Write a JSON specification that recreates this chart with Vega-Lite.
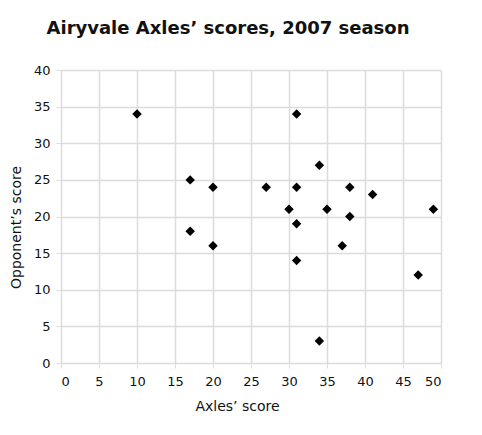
{
  "$schema": "https://vega.github.io/schema/vega-lite/v6.json",
  "autosize": "none",
  "width": 380,
  "height": 293,
  "padding": {"left": 61, "top": 70, "right": 41, "bottom": 72},
  "background": "white",
  "title": {
    "text": "Airyvale Axles’ scores, 2007 season",
    "font": "DejaVu Sans",
    "fontSize": 18,
    "fontWeight": "bold",
    "color": "#111",
    "anchor": "middle",
    "dx": -23,
    "offset": 26
  },
  "config": {
    "view": {"stroke": null},
    "axis": {
      "labelFont": "DejaVu Sans",
      "titleFont": "DejaVu Sans",
      "labelFontSize": 13,
      "titleFontSize": 14,
      "titleFontWeight": "normal",
      "labelColor": "#111",
      "titleColor": "#111",
      "gridColor": "#dcdcdc",
      "gridWidth": 1.5,
      "tickColor": "#dcdcdc",
      "tickSize": 5,
      "domain": false
    }
  },
  "data": {
    "values": [
      {"axles": 10, "opponent": 34},
      {"axles": 17, "opponent": 25},
      {"axles": 17, "opponent": 18},
      {"axles": 20, "opponent": 24},
      {"axles": 20, "opponent": 16},
      {"axles": 27, "opponent": 24},
      {"axles": 30, "opponent": 21},
      {"axles": 31, "opponent": 34},
      {"axles": 31, "opponent": 24},
      {"axles": 31, "opponent": 19},
      {"axles": 31, "opponent": 14},
      {"axles": 34, "opponent": 27},
      {"axles": 34, "opponent": 3},
      {"axles": 35, "opponent": 21},
      {"axles": 37, "opponent": 16},
      {"axles": 38, "opponent": 24},
      {"axles": 38, "opponent": 20},
      {"axles": 41, "opponent": 23},
      {"axles": 47, "opponent": 12},
      {"axles": 49, "opponent": 21}
    ]
  },
  "mark": {"type": "point", "shape": "diamond", "filled": true, "color": "black", "size": 90, "opacity": 1},
  "encoding": {
    "x": {
      "field": "axles",
      "type": "quantitative",
      "title": "Axles’ score",
      "scale": {"domain": [0, 50], "nice": false},
      "axis": {"values": [0,5,10,15,20,25,30,35,40,45,50], "labelPadding": 7, "titlePadding": 11, "titleX": 176}
    },
    "y": {
      "field": "opponent",
      "type": "quantitative",
      "title": "Opponent’s score",
      "scale": {"domain": [0, 40], "nice": false},
      "axis": {"values": [0,5,10,15,20,25,30,35,40], "labelPadding": 6, "titlePadding": 10, "titleY": 157}
    }
  }
}
